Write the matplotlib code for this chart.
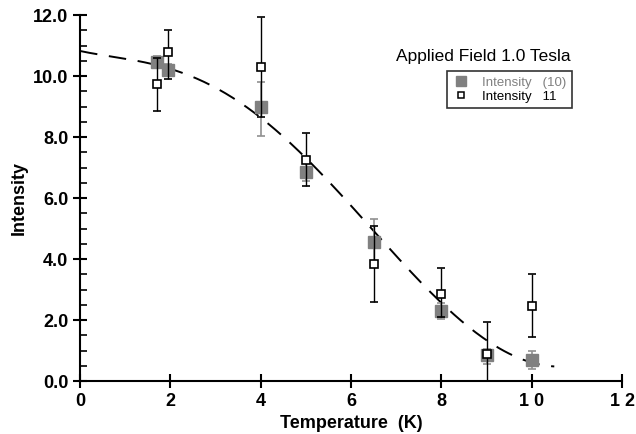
import matplotlib
matplotlib.use('Agg')
import matplotlib.pyplot as plt
from matplotlib.ticker import MultipleLocator
from matplotlib.lines import Line2D
import numpy as np
from numpy.polynomial import polynomial as P

plt.rcParams['font.family'] = ['Liberation Sans', 'DejaVu Sans']

# filled series: Intensity (10)
t_fill = [1.7, 1.95, 4.0, 5.0, 6.5, 8.0, 9.0, 10.0]
i_fill = [10.45, 10.2, 9.0, 6.85, 4.55, 2.3, 0.85, 0.7]
lo_fill = [10.3, 10.0, 8.05, 6.55, 3.85, 2.05, 0.55, 0.4]
hi_fill = [10.65, 10.4, 9.8, 7.2, 5.3, 2.55, 1.05, 1.0]

# open series: Intensity 11
t_open = [1.7, 1.95, 4.0, 5.0, 6.5, 8.0, 9.0, 10.0]
i_open = [9.75, 10.8, 10.3, 7.25, 3.85, 2.85, 0.9, 2.45]
lo_open = [8.85, 9.9, 8.65, 6.4, 2.6, 2.1, 0.0, 1.45]
hi_open = [10.6, 11.5, 11.95, 8.15, 5.1, 3.7, 1.95, 3.5]

# dashed fit curve
t_fit = [0.0, 1.0, 2.0, 3.0, 4.0, 5.0, 6.0, 7.0, 8.0, 9.0, 10.0, 10.5]
i_fit = [10.8, 10.65, 10.2, 9.55, 8.65, 7.4, 5.75, 4.05, 2.55, 1.35, 0.65, 0.45]

x_ticks = [0, 2, 4, 6, 8, 10, 12]
x_labels = ['0', '2', '4', '6', '8', '1 0', '1 2']
y_ticks = [0, 2, 4, 6, 8, 10, 12]
y_labels = ['0.0', '2.0', '4.0', '6.0', '8.0', '10.0', '12.0']

fig = plt.figure(figsize=(6.36, 4.34), dpi=100)
ax = fig.add_axes([0.126, 0.122, 0.852, 0.843])

# smooth dashed curve through the read points
tt = np.linspace(t_fit[0], t_fit[-1], 200)
coef = P.polyfit(t_fit, i_fit, 5)
ax.plot(tt, P.polyval(tt, coef), color='black', lw=1.4, dashes=(9, 6), zorder=2)

gray = '#808080'
ax.errorbar(t_fill, i_fill,
            yerr=[np.subtract(i_fill, lo_fill), np.subtract(hi_fill, i_fill)],
            fmt='s', ms=8, color=gray, mec=gray, mfc=gray, ecolor='#909090',
            elinewidth=1.2, capsize=3, capthick=1.2, zorder=3)
ax.errorbar(t_open, i_open,
            yerr=[np.subtract(i_open, lo_open), np.subtract(hi_open, i_open)],
            fmt='s', ms=6, color='black', mec='black', mfc='white', mew=1.2,
            ecolor='black', elinewidth=1.0, capsize=3, capthick=1.0, zorder=4)

ax.set_xlim(0, 12)
ax.set_ylim(0, 12)
ax.set_xticks(x_ticks)
ax.set_xticklabels(x_labels, fontweight='bold', fontsize=13)
ax.set_yticks(y_ticks)
ax.set_yticklabels(y_labels, fontweight='bold', fontsize=13)
ax.yaxis.set_minor_locator(MultipleLocator(0.5))
ax.tick_params(axis='both', which='major', direction='inout', length=10, width=1.5)
ax.tick_params(axis='y', which='minor', direction='in', length=5, width=1.2)
for s in ['top', 'right']:
    ax.spines[s].set_visible(False)
for s in ['left', 'bottom']:
    ax.spines[s].set_linewidth(1.5)

ax.set_xlabel('Temperature  (K)', fontweight='bold', fontsize=13)
ax.set_ylabel('Intensity', fontweight='bold', fontsize=13)

ax.text(0.905, 0.887, 'Applied Field 1.0 Tesla', transform=ax.transAxes,
        ha='right', va='center', fontsize=12.5)

handles = [Line2D([], [], ls='none', marker='s', ms=7, color=gray),
           Line2D([], [], ls='none', marker='s', ms=5, mfc='white',
                  mec='black', mew=1.1)]
leg = ax.legend(handles, ['Intensity   (10)', 'Intensity   11'],
                loc='upper right', bbox_to_anchor=(0.908, 0.848), fontsize=9.5,
                frameon=True, fancybox=False, edgecolor='black',
                handlelength=1.2, handletextpad=1.0, borderpad=0.45,
                borderaxespad=0, labelspacing=0.1, numpoints=1)
leg.get_frame().set_linewidth(1.2)
leg.get_texts()[0].set_color(gray)

fig.savefig('out.png', dpi=100)
